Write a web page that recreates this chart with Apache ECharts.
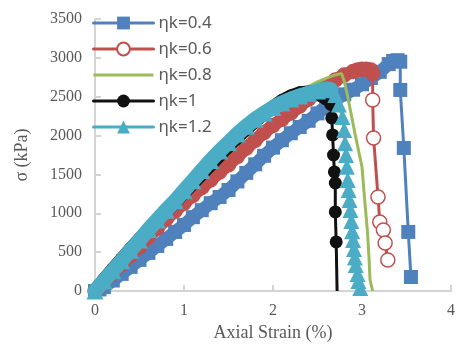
<!DOCTYPE html>
<html>
<head>
<meta charset="utf-8">
<script src="https://cdn.jsdelivr.net/npm/echarts@6/dist/echarts.min.js"></script>
<style>
html, body { margin: 0; padding: 0; background: #fff; }
#main { width: 458px; height: 347px; }
</style>
</head>
<body>
<div id="main"></div>
<script>
// 读图估计的数据 (strain %, stress kPa)，每条曲线分上升段和下降段
var names = ['ηk=0.4', 'ηk=0.6', 'ηk=0.8', 'ηk=1', 'ηk=1.2'];
var xTicks = [0, 1, 2, 3, 4];
var yTicks = [0, 500, 1000, 1500, 2000, 2500, 3000, 3500];

// ηk=0.4
var strain04 = [0, 0.05, 0.1, 0.2, 0.3, 0.4, 0.5, 0.6, 0.7, 0.8, 0.9, 1.0, 1.1, 1.2, 1.3, 1.4, 1.5, 1.6, 1.7, 1.8, 1.9,
  2.0, 2.1, 2.2, 2.3, 2.4, 2.5, 2.6, 2.7, 2.8, 2.9, 3.0, 3.1, 3.2, 3.3, 3.35, 3.4, 3.43];
var stress04 = [0, 20, 50, 135, 220, 310, 400, 490, 580, 670, 760, 850, 950, 1040, 1130, 1210, 1300, 1410, 1520, 1630, 1740,
  1845, 1940, 2030, 2110, 2190, 2285, 2380, 2460, 2530, 2590, 2660, 2740, 2820, 2920, 2960, 2970, 2950];
var dropStrain04 = [3.43, 3.43, 3.47, 3.52, 3.55];
var dropStress04 = [2950, 2587, 1840, 760, 180];

// ηk=0.6
var strain06 = [0, 0.05, 0.1, 0.2, 0.3, 0.4, 0.5, 0.6, 0.7, 0.8, 0.9, 1.0, 1.1, 1.2, 1.3, 1.4, 1.5, 1.6, 1.7, 1.8, 1.9,
  2.0, 2.1, 2.2, 2.3, 2.4, 2.5, 2.6, 2.7, 2.8, 2.9, 2.95, 3.0, 3.05, 3.1, 3.12];
var stress06 = [0, 50, 110, 225, 340, 455, 570, 690, 810, 925, 1030, 1130, 1230, 1330, 1430, 1530, 1625, 1730, 1840, 1940, 2040,
  2130, 2210, 2290, 2380, 2470, 2560, 2640, 2715, 2780, 2825, 2845, 2855, 2855, 2845, 2800];
var dropStrain06 = [3.12, 3.12, 3.13, 3.18, 3.2, 3.24, 3.26, 3.29];
var dropStress06 = [2800, 2458, 1969, 1210, 888, 785, 618, 399];

// ηk=0.8
var strain08 = [0, 0.2, 0.4, 0.6, 0.8, 1.0, 1.2, 1.4, 1.6, 1.8, 2.0, 2.2, 2.4, 2.5, 2.6, 2.7, 2.77,
  2.8, 2.84, 2.92, 3.0, 3.03, 3.06, 3.08, 3.09, 3.12];
var stress08 = [0, 265, 530, 790, 1040, 1290, 1540, 1780, 2000, 2190, 2350, 2490, 2630, 2690, 2740, 2780, 2800,
  2700, 2497, 2033, 1596, 1171, 785, 400, 142, 0];

// ηk=1
var strain10 = [0, 0.05, 0.1, 0.2, 0.3, 0.4, 0.5, 0.6, 0.7, 0.8, 0.9, 1.0, 1.1, 1.2, 1.3, 1.4, 1.5, 1.6, 1.7, 1.8, 1.9,
  2.0, 2.1, 2.2, 2.3, 2.4, 2.5, 2.6];
var stress10 = [0, 80, 150, 285, 415, 545, 670, 790, 905, 1020, 1140, 1260, 1380, 1500, 1620, 1740, 1860, 1970, 2080, 2180, 2280,
  2370, 2450, 2510, 2550, 2560, 2540, 2470];
var dropStrain10 = [2.6, 2.65, 2.66, 2.67, 2.68, 2.69, 2.7, 2.7, 2.71, 2.72];
var dropStress10 = [2470, 2400, 2227, 2008, 1750, 1532, 1390, 1017, 631, 0];

// ηk=1.2
var strain12 = [0, 0.1, 0.2, 0.3, 0.4, 0.5, 0.6, 0.7, 0.8, 0.9, 1.0, 1.1, 1.2, 1.3, 1.4, 1.5, 1.6, 1.7, 1.8, 1.9,
  2.0, 2.1, 2.2, 2.3, 2.4, 2.5, 2.6, 2.65];
var stress12 = [0, 130, 260, 390, 525, 655, 790, 915, 1040, 1160, 1290, 1420, 1550, 1680, 1800, 1910, 2020, 2120, 2210, 2290,
  2360, 2420, 2470, 2510, 2545, 2575, 2600, 2590];
var dropStrain12 = [2.65, 2.7, 2.74, 2.78, 2.8, 2.81, 2.82, 2.83, 2.84, 2.85, 2.86, 2.87, 2.88,
  2.89, 2.9, 2.91, 2.92, 2.93, 2.95, 2.96, 2.98];
var dropStress12 = [2590, 2523, 2400, 2240, 2072, 1900, 1750, 1600, 1429, 1300, 1170, 1042, 900,
  770, 656, 540, 430, 335, 220, 130, 39];

function pairs(xs, ys) {
  return xs.map(function (x, i) { return [x, ys[i]]; });
}

var chart = echarts.init(document.getElementById('main'), null, { renderer: 'canvas' });

var blue = '#4f81bd', red = '#c0504d', green = '#9bbb59', black = '#111111', cyan = '#4bacc6';
var axisColor = '#d4d4d4';
var labelColor = '#595959';
var serif = 'Liberation Serif, Times New Roman, serif';

// 下降段第一点与上升段末点重合，不重复画标记
function dropData(xs, ys, hideLast) {
  return pairs(xs, ys).map(function (p, i, arr) {
    if (i === 0 || (hideLast && i === arr.length - 1)) return { value: p, symbol: 'none' };
    return p;
  });
}

// 上升段：密集标记连成的粗带；z 逐条递增，后画的曲线整体盖住前面
function band(name, data, symbol, size, width, color, z, fill) {
  return {
    name: name, type: 'line', data: data, z: z,
    symbol: symbol, symbolSize: size,
    itemStyle: fill ? { color: fill, borderColor: color, borderWidth: 1.5 } : { color: color },
    lineStyle: { color: color, width: width, join: 'round', cap: 'round' }
  };
}

function drop(name, data, symbol, size, color, z, fill) {
  return {
    name: name, type: 'line', data: data, z: z,
    symbol: symbol, symbolSize: size,
    itemStyle: fill ? { color: fill, borderColor: color, borderWidth: 1.5 } : { color: color },
    lineStyle: { color: color, width: 3 }
  };
}

var option = {
  animation: false,
  grid: { left: 95, right: 7, top: 19, bottom: 56, containLabel: false },
  legend: {
    z: 20,
    data: [
      { name: names[0] },
      { name: names[1], itemStyle: { color: '#fff' } },
      { name: names[2], itemStyle: { opacity: 0 } },
      { name: names[3] },
      { name: names[4] }
    ],
    orient: 'vertical',
    left: 87,
    top: 8,
    itemWidth: 60,
    itemHeight: 16,
    itemGap: 6,
    lineStyle: { width: 3 },
    textStyle: { fontFamily: 'Noto Sans', fontSize: 17, color: labelColor, lineHeight: 20 }
  },
  xAxis: {
    type: 'value',
    min: xTicks[0],
    max: xTicks[xTicks.length - 1],
    interval: 1,
    name: 'Axial Strain (%)',
    nameLocation: 'middle',
    nameGap: 32,
    nameTextStyle: { fontFamily: serif, fontSize: 18, color: labelColor },
    axisLine: { lineStyle: { color: axisColor, width: 2 } },
    axisTick: { inside: true, length: 6, lineStyle: { color: axisColor, width: 2 } },
    axisLabel: { fontFamily: serif, fontSize: 16, color: labelColor, margin: 12 },
    splitLine: { show: false }
  },
  yAxis: {
    type: 'value',
    min: yTicks[0],
    max: yTicks[yTicks.length - 1],
    interval: 500,
    name: 'σ (kPa)',
    nameLocation: 'middle',
    nameGap: 64,
    nameTextStyle: { fontFamily: serif, fontSize: 18, color: labelColor },
    axisLine: { show: true, lineStyle: { color: axisColor, width: 2 } },
    axisTick: { show: true, inside: true, length: 6, lineStyle: { color: axisColor, width: 2 } },
    axisLabel: {
      fontFamily: serif, fontSize: 16, color: labelColor, margin: 13,
      formatter: function (v) { return String(v); }
    },
    splitLine: { show: false }
  },
  series: [
    band(names[0], pairs(strain04, stress04), 'rect', 14, 13, blue, 2),
    drop(names[0], dropData(dropStrain04, dropStress04), 'rect', 14, blue, 3),
    band(names[1], pairs(strain06, stress06), 'circle', 14, 13, red, 4, 'rgba(255,255,255,0)'),
    drop(names[1], dropData(dropStrain06, dropStress06), 'circle', 14, red, 5, '#fff'),
    {
      name: names[2], type: 'line', data: pairs(strain08, stress08), z: 6,
      symbol: 'none',
      itemStyle: { color: green },
      lineStyle: { color: green, width: 3 }
    },
    band(names[3], pairs(strain10, stress10), 'circle', 13, 13, black, 7),
    drop(names[3], dropData(dropStrain10, dropStress10, true), 'circle', 13, black, 8),
    band(names[4], pairs(strain12, stress12), 'triangle', 17, 15, cyan, 9),
    drop(names[4], dropData(dropStrain12, dropStress12), 'triangle', 16, cyan, 10)
  ]
};

chart.setOption(option);
</script>
</body>
</html>
